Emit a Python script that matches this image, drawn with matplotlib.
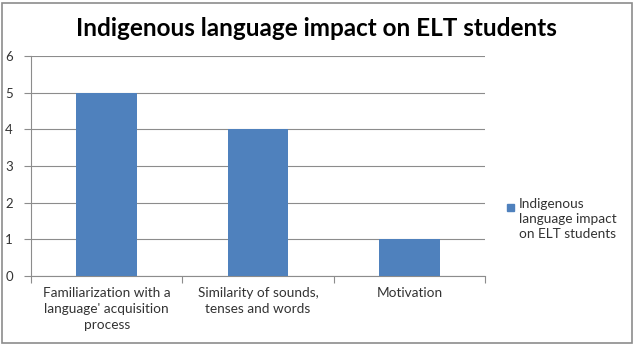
import matplotlib as mpl
mpl.use('Agg')
import matplotlib.pyplot as plt
from matplotlib.patches import Rectangle

categories = ["Familiarization with a\nlanguage' acquisition\nprocess",
              "Similarity of sounds,\ntenses and words",
              "Motivation"]
values = [5, 4, 1]
series_name = "Indigenous\nlanguage impact\non ELT students"
title = "Indigenous language impact on ELT students"
bar_color = '#4F81BD'

plt.rcParams['font.family'] = ['Lato', 'DejaVu Sans']

fig = plt.figure(figsize=(6.36, 3.45), dpi=100, facecolor='w')
ax = fig.add_axes([31/636, 1 - 276/345, 454/636, 220/345])

xs = range(len(values))
ax.bar(xs, values, width=0.4, color=bar_color, zorder=3)

ax.set_xlim(-0.5, len(values) - 0.5)
ax.set_ylim(0, 6)
ax.set_yticks(range(0, 7))
ax.yaxis.grid(True, color='#8c8c8c', linewidth=0.8, zorder=0)

ax.set_xticks([i + 0.5 for i in range(-1, len(values))], minor=False)
ax.set_xticklabels([])
ax.set_xticks(list(xs), minor=True)
ax.set_xticklabels(categories, minor=True, fontsize=9.8, color='#333333', linespacing=1.4)
ax.tick_params(axis='x', which='minor', length=0, pad=8)
ax.tick_params(axis='x', which='major', length=5, color='#8c8c8c', direction='out')
ax.tick_params(axis='y', length=5, color='#8c8c8c', labelsize=9.5, labelcolor='#333333', pad=8)

for s in ['top', 'right']:
    ax.spines[s].set_visible(False)
for s in ['left', 'bottom']:
    ax.spines[s].set_color('#8c8c8c')
    ax.spines[s].set_linewidth(0.8)

fig.text(316/636, 1 - 28/345, title, ha='center', va='center', fontsize=17.5, fontweight='bold', color='black')

# legend drawn by hand so the key sits on the first text line
fig.patches.append(Rectangle((507/636, 1 - 211/345), 7/636, 7/345, transform=fig.transFigure,
                             color=bar_color))
fig.text(519/636, 1 - 198/345, series_name, ha='left', va='top', fontsize=9.8,
         color='#333333', linespacing=1.3)

fig.patches.append(Rectangle((2/636, 2/345), 630/636, 340/345, transform=fig.transFigure,
                             fill=False, edgecolor='#8c8c8c', linewidth=1.2))

plt.savefig('out.png', dpi=100)
